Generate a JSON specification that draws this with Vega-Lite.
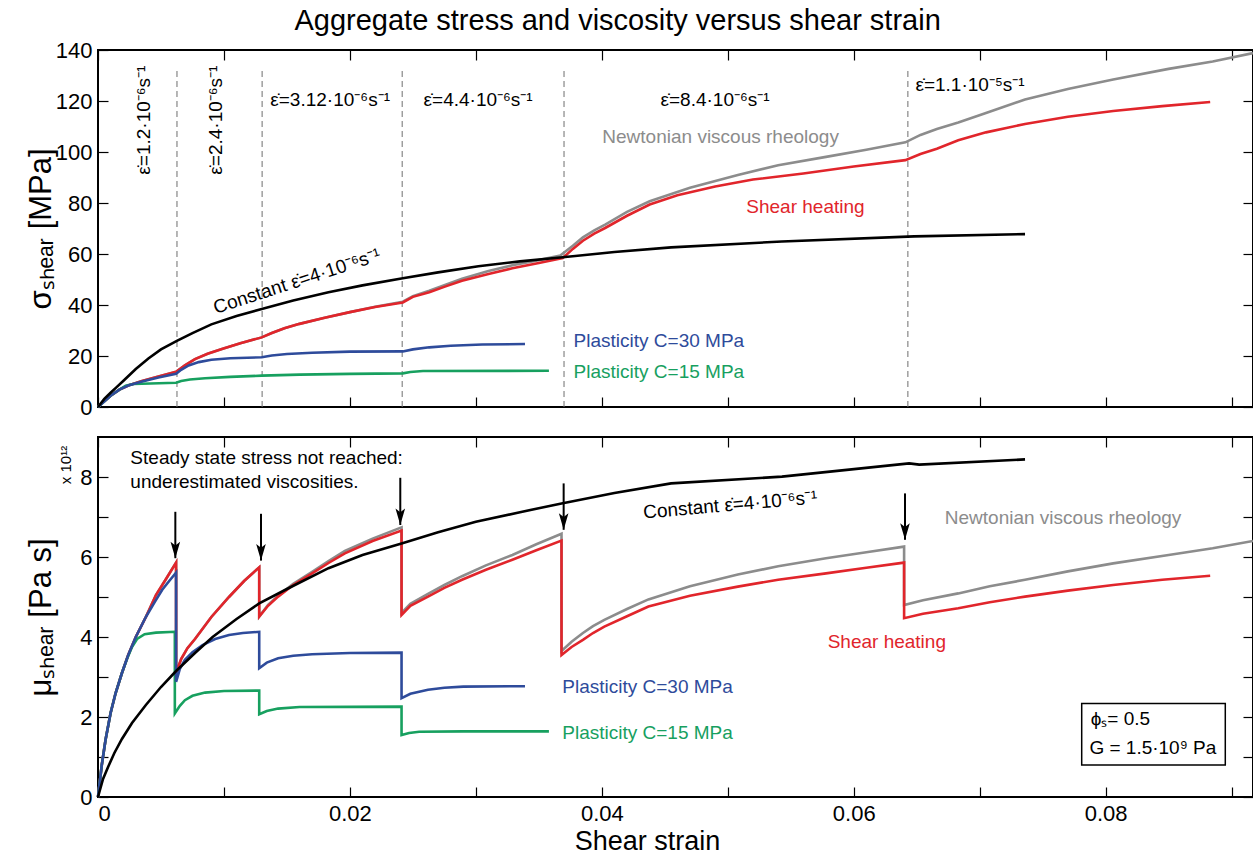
{
  "$schema": "https://vega.github.io/schema/vega-lite/v6.json",
  "background": "white",
  "padding": {"left": 24, "top": 7, "right": 0, "bottom": 0},
  "autosize": {"type": "pad"},
  "spacing": 16,
  "title": {"text": "Aggregate stress and viscosity versus shear strain", "fontSize": 29, "fontWeight": "normal", "font": "Liberation Sans", "color": "#000", "offset": 2, "anchor": "middle", "dx": -24},
  "config": {
    "font": "Liberation Sans",
    "view": {"stroke": "#000", "strokeWidth": 2},
    "axis": {"domain": false, "grid": false, "ticks": true, "tickColor": "#000", "tickWidth": 1.2, "tickSize": -10, "labelColor": "#000", "labelFontSize": 22, "labelFont": "Liberation Sans", "titleFont": "Liberation Sans", "titleFontSize": 31, "titleFontWeight": "normal", "titleColor": "#000"}
  },
  "datasets": {
    "stress": [
      {"s": "Newtonian", "x": 0, "y": 0}, {"s": "Newtonian", "x": 0.0005, "y": 2.3}, {"s": "Newtonian", "x": 0.001, "y": 4.4}, {"s": "Newtonian", "x": 0.0017, "y": 6.8}, {"s": "Newtonian", "x": 0.0024, "y": 8.4}, {"s": "Newtonian", "x": 0.0035, "y": 10.2}, {"s": "Newtonian", "x": 0.0048, "y": 12.0}, {"s": "Newtonian", "x": 0.0062, "y": 13.8}, {"s": "Newtonian", "x": 0.0069, "y": 16.3}, {"s": "Newtonian", "x": 0.0077, "y": 18.8}, {"s": "Newtonian", "x": 0.0087, "y": 20.9}, {"s": "Newtonian", "x": 0.0099, "y": 22.8}, {"s": "Newtonian", "x": 0.0113, "y": 25.0}, {"s": "Newtonian", "x": 0.013, "y": 27.3}, {"s": "Newtonian", "x": 0.0138, "y": 29.0}, {"s": "Newtonian", "x": 0.0148, "y": 30.9}, {"s": "Newtonian", "x": 0.016, "y": 32.6}, {"s": "Newtonian", "x": 0.018, "y": 35.0}, {"s": "Newtonian", "x": 0.02, "y": 37.2}, {"s": "Newtonian", "x": 0.022, "y": 39.3}, {"s": "Newtonian", "x": 0.0242, "y": 41.3}, {"s": "Newtonian", "x": 0.025, "y": 43.5}, {"s": "Newtonian", "x": 0.0263, "y": 45.6}, {"s": "Newtonian", "x": 0.0276, "y": 48.0}, {"s": "Newtonian", "x": 0.0289, "y": 50.3}, {"s": "Newtonian", "x": 0.031, "y": 53.3}, {"s": "Newtonian", "x": 0.0329, "y": 55.6}, {"s": "Newtonian", "x": 0.035, "y": 57.6}, {"s": "Newtonian", "x": 0.0367, "y": 59.4}, {"s": "Newtonian", "x": 0.0377, "y": 63.2}, {"s": "Newtonian", "x": 0.0385, "y": 66.5}, {"s": "Newtonian", "x": 0.0394, "y": 69.3}, {"s": "Newtonian", "x": 0.0403, "y": 71.6}, {"s": "Newtonian", "x": 0.042, "y": 76.5}, {"s": "Newtonian", "x": 0.0438, "y": 80.7}, {"s": "Newtonian", "x": 0.047, "y": 86.0}, {"s": "Newtonian", "x": 0.0508, "y": 91.0}, {"s": "Newtonian", "x": 0.054, "y": 94.8}, {"s": "Newtonian", "x": 0.0578, "y": 98.1}, {"s": "Newtonian", "x": 0.061, "y": 100.9}, {"s": "Newtonian", "x": 0.0641, "y": 103.8}, {"s": "Newtonian", "x": 0.0653, "y": 106.7}, {"s": "Newtonian", "x": 0.0666, "y": 109.0}, {"s": "Newtonian", "x": 0.0683, "y": 111.6}, {"s": "Newtonian", "x": 0.0705, "y": 115.3}, {"s": "Newtonian", "x": 0.0736, "y": 120.6}, {"s": "Newtonian", "x": 0.077, "y": 124.7}, {"s": "Newtonian", "x": 0.0806, "y": 128.4}, {"s": "Newtonian", "x": 0.085, "y": 132.6}, {"s": "Newtonian", "x": 0.0885, "y": 135.5}, {"s": "Newtonian", "x": 0.0917, "y": 138.8},
      {"s": "Heating", "x": 0, "y": 0}, {"s": "Heating", "x": 0.0005, "y": 2.3}, {"s": "Heating", "x": 0.001, "y": 4.4}, {"s": "Heating", "x": 0.0017, "y": 6.8}, {"s": "Heating", "x": 0.0024, "y": 8.4}, {"s": "Heating", "x": 0.0035, "y": 10.2}, {"s": "Heating", "x": 0.0048, "y": 12.0}, {"s": "Heating", "x": 0.0062, "y": 13.8}, {"s": "Heating", "x": 0.0069, "y": 16.3}, {"s": "Heating", "x": 0.0077, "y": 18.8}, {"s": "Heating", "x": 0.0087, "y": 20.9}, {"s": "Heating", "x": 0.0099, "y": 22.8}, {"s": "Heating", "x": 0.0113, "y": 25.0}, {"s": "Heating", "x": 0.013, "y": 27.3}, {"s": "Heating", "x": 0.0138, "y": 29.0}, {"s": "Heating", "x": 0.0148, "y": 30.9}, {"s": "Heating", "x": 0.016, "y": 32.6}, {"s": "Heating", "x": 0.018, "y": 35.0}, {"s": "Heating", "x": 0.02, "y": 37.2}, {"s": "Heating", "x": 0.022, "y": 39.2}, {"s": "Heating", "x": 0.0242, "y": 41.0}, {"s": "Heating", "x": 0.025, "y": 43.2}, {"s": "Heating", "x": 0.0263, "y": 45.0}, {"s": "Heating", "x": 0.0276, "y": 47.3}, {"s": "Heating", "x": 0.0289, "y": 49.5}, {"s": "Heating", "x": 0.031, "y": 52.2}, {"s": "Heating", "x": 0.0329, "y": 54.4}, {"s": "Heating", "x": 0.035, "y": 56.5}, {"s": "Heating", "x": 0.0369, "y": 58.4}, {"s": "Heating", "x": 0.0377, "y": 62.0}, {"s": "Heating", "x": 0.0385, "y": 65.2}, {"s": "Heating", "x": 0.0394, "y": 68.0}, {"s": "Heating", "x": 0.0403, "y": 70.3}, {"s": "Heating", "x": 0.042, "y": 75.0}, {"s": "Heating", "x": 0.0438, "y": 79.4}, {"s": "Heating", "x": 0.046, "y": 83.0}, {"s": "Heating", "x": 0.049, "y": 86.5}, {"s": "Heating", "x": 0.052, "y": 89.2}, {"s": "Heating", "x": 0.056, "y": 91.6}, {"s": "Heating", "x": 0.06, "y": 94.3}, {"s": "Heating", "x": 0.0641, "y": 96.8}, {"s": "Heating", "x": 0.0653, "y": 99.2}, {"s": "Heating", "x": 0.0666, "y": 101.3}, {"s": "Heating", "x": 0.0683, "y": 104.6}, {"s": "Heating", "x": 0.0705, "y": 107.7}, {"s": "Heating", "x": 0.0736, "y": 111.0}, {"s": "Heating", "x": 0.077, "y": 113.8}, {"s": "Heating", "x": 0.0806, "y": 116.1}, {"s": "Heating", "x": 0.0845, "y": 118.0}, {"s": "Heating", "x": 0.0883, "y": 119.6},
      {"s": "C15", "x": 0, "y": 0}, {"s": "C15", "x": 0.001, "y": 4.4}, {"s": "C15", "x": 0.0017, "y": 6.8}, {"s": "C15", "x": 0.0022, "y": 8.3}, {"s": "C15", "x": 0.0028, "y": 9.0}, {"s": "C15", "x": 0.0062, "y": 9.5}, {"s": "C15", "x": 0.0066, "y": 10.2}, {"s": "C15", "x": 0.0073, "y": 10.8}, {"s": "C15", "x": 0.0085, "y": 11.3}, {"s": "C15", "x": 0.0105, "y": 11.8}, {"s": "C15", "x": 0.013, "y": 12.3}, {"s": "C15", "x": 0.016, "y": 12.7}, {"s": "C15", "x": 0.02, "y": 13.0}, {"s": "C15", "x": 0.0242, "y": 13.2}, {"s": "C15", "x": 0.0248, "y": 13.7}, {"s": "C15", "x": 0.0258, "y": 14.1}, {"s": "C15", "x": 0.0358, "y": 14.2},
      {"s": "C30", "x": 0, "y": 0}, {"s": "C30", "x": 0.001, "y": 4.4}, {"s": "C30", "x": 0.0017, "y": 6.8}, {"s": "C30", "x": 0.0024, "y": 8.4}, {"s": "C30", "x": 0.0035, "y": 10.0}, {"s": "C30", "x": 0.0048, "y": 11.6}, {"s": "C30", "x": 0.0062, "y": 13.0}, {"s": "C30", "x": 0.0066, "y": 14.6}, {"s": "C30", "x": 0.0072, "y": 16.3}, {"s": "C30", "x": 0.008, "y": 17.6}, {"s": "C30", "x": 0.009, "y": 18.5}, {"s": "C30", "x": 0.0105, "y": 19.1}, {"s": "C30", "x": 0.013, "y": 19.5}, {"s": "C30", "x": 0.0138, "y": 20.2}, {"s": "C30", "x": 0.015, "y": 20.8}, {"s": "C30", "x": 0.017, "y": 21.3}, {"s": "C30", "x": 0.02, "y": 21.7}, {"s": "C30", "x": 0.0242, "y": 21.8}, {"s": "C30", "x": 0.025, "y": 22.6}, {"s": "C30", "x": 0.0263, "y": 23.4}, {"s": "C30", "x": 0.028, "y": 24.0}, {"s": "C30", "x": 0.0305, "y": 24.5}, {"s": "C30", "x": 0.0339, "y": 24.7},
      {"s": "Constant", "x": 0, "y": 0}, {"s": "Constant", "x": 0.0005, "y": 3.2}, {"s": "Constant", "x": 0.001, "y": 5.6}, {"s": "Constant", "x": 0.0015, "y": 7.9}, {"s": "Constant", "x": 0.002, "y": 10.2}, {"s": "Constant", "x": 0.003, "y": 14.9}, {"s": "Constant", "x": 0.004, "y": 19.0}, {"s": "Constant", "x": 0.005, "y": 22.6}, {"s": "Constant", "x": 0.0063, "y": 26.0}, {"s": "Constant", "x": 0.0075, "y": 29.0}, {"s": "Constant", "x": 0.009, "y": 32.4}, {"s": "Constant", "x": 0.011, "y": 35.7}, {"s": "Constant", "x": 0.013, "y": 38.4}, {"s": "Constant", "x": 0.0155, "y": 41.8}, {"s": "Constant", "x": 0.0183, "y": 45.0}, {"s": "Constant", "x": 0.021, "y": 47.7}, {"s": "Constant", "x": 0.0242, "y": 50.5}, {"s": "Constant", "x": 0.027, "y": 52.8}, {"s": "Constant", "x": 0.0302, "y": 55.2}, {"s": "Constant", "x": 0.0335, "y": 57.1}, {"s": "Constant", "x": 0.0369, "y": 58.7}, {"s": "Constant", "x": 0.041, "y": 60.8}, {"s": "Constant", "x": 0.0455, "y": 62.6}, {"s": "Constant", "x": 0.0543, "y": 64.9}, {"s": "Constant", "x": 0.0648, "y": 66.9}, {"s": "Constant", "x": 0.0736, "y": 67.8}
    ],
    "visc": [
      {"s": "Newtonian", "x": 0, "y": 0}, {"s": "Newtonian", "x": 0.0003, "y": 0.8}, {"s": "Newtonian", "x": 0.0006, "y": 1.43}, {"s": "Newtonian", "x": 0.001, "y": 2.1}, {"s": "Newtonian", "x": 0.0014, "y": 2.6}, {"s": "Newtonian", "x": 0.0019, "y": 3.1}, {"s": "Newtonian", "x": 0.0024, "y": 3.55}, {"s": "Newtonian", "x": 0.003, "y": 4.0}, {"s": "Newtonian", "x": 0.0038, "y": 4.5}, {"s": "Newtonian", "x": 0.0046, "y": 5.05}, {"s": "Newtonian", "x": 0.0054, "y": 5.45}, {"s": "Newtonian", "x": 0.0062, "y": 5.86}, {"s": "Newtonian", "x": 0.0062, "y": 3.1}, {"s": "Newtonian", "x": 0.0066, "y": 3.45}, {"s": "Newtonian", "x": 0.0071, "y": 3.72}, {"s": "Newtonian", "x": 0.0077, "y": 3.95}, {"s": "Newtonian", "x": 0.009, "y": 4.5}, {"s": "Newtonian", "x": 0.0104, "y": 5.0}, {"s": "Newtonian", "x": 0.0116, "y": 5.4}, {"s": "Newtonian", "x": 0.0128, "y": 5.74}, {"s": "Newtonian", "x": 0.0128, "y": 4.51}, {"s": "Newtonian", "x": 0.0135, "y": 4.8}, {"s": "Newtonian", "x": 0.0143, "y": 5.03}, {"s": "Newtonian", "x": 0.0155, "y": 5.33}, {"s": "Newtonian", "x": 0.017, "y": 5.63}, {"s": "Newtonian", "x": 0.0183, "y": 5.9}, {"s": "Newtonian", "x": 0.0196, "y": 6.15}, {"s": "Newtonian", "x": 0.0218, "y": 6.46}, {"s": "Newtonian", "x": 0.0241, "y": 6.74}, {"s": "Newtonian", "x": 0.0241, "y": 4.6}, {"s": "Newtonian", "x": 0.0248, "y": 4.83}, {"s": "Newtonian", "x": 0.0262, "y": 5.08}, {"s": "Newtonian", "x": 0.0275, "y": 5.3}, {"s": "Newtonian", "x": 0.0289, "y": 5.52}, {"s": "Newtonian", "x": 0.0308, "y": 5.79}, {"s": "Newtonian", "x": 0.0329, "y": 6.05}, {"s": "Newtonian", "x": 0.0348, "y": 6.32}, {"s": "Newtonian", "x": 0.0368, "y": 6.58}, {"s": "Newtonian", "x": 0.0368, "y": 3.65}, {"s": "Newtonian", "x": 0.0376, "y": 3.88}, {"s": "Newtonian", "x": 0.0385, "y": 4.1}, {"s": "Newtonian", "x": 0.0393, "y": 4.27}, {"s": "Newtonian", "x": 0.0402, "y": 4.43}, {"s": "Newtonian", "x": 0.042, "y": 4.7}, {"s": "Newtonian", "x": 0.0437, "y": 4.94}, {"s": "Newtonian", "x": 0.047, "y": 5.27}, {"s": "Newtonian", "x": 0.0508, "y": 5.56}, {"s": "Newtonian", "x": 0.054, "y": 5.77}, {"s": "Newtonian", "x": 0.0578, "y": 5.97}, {"s": "Newtonian", "x": 0.061, "y": 6.12}, {"s": "Newtonian", "x": 0.064, "y": 6.26}, {"s": "Newtonian", "x": 0.064, "y": 4.8}, {"s": "Newtonian", "x": 0.0655, "y": 4.92}, {"s": "Newtonian", "x": 0.0683, "y": 5.09}, {"s": "Newtonian", "x": 0.0708, "y": 5.27}, {"s": "Newtonian", "x": 0.0736, "y": 5.43}, {"s": "Newtonian", "x": 0.077, "y": 5.64}, {"s": "Newtonian", "x": 0.0806, "y": 5.84}, {"s": "Newtonian", "x": 0.085, "y": 6.05}, {"s": "Newtonian", "x": 0.0885, "y": 6.22}, {"s": "Newtonian", "x": 0.0917, "y": 6.4},
      {"s": "Heating", "x": 0, "y": 0}, {"s": "Heating", "x": 0.0003, "y": 0.8}, {"s": "Heating", "x": 0.0006, "y": 1.43}, {"s": "Heating", "x": 0.001, "y": 2.1}, {"s": "Heating", "x": 0.0014, "y": 2.6}, {"s": "Heating", "x": 0.0019, "y": 3.1}, {"s": "Heating", "x": 0.0024, "y": 3.55}, {"s": "Heating", "x": 0.003, "y": 4.0}, {"s": "Heating", "x": 0.0038, "y": 4.5}, {"s": "Heating", "x": 0.0046, "y": 5.05}, {"s": "Heating", "x": 0.0054, "y": 5.45}, {"s": "Heating", "x": 0.0062, "y": 5.86}, {"s": "Heating", "x": 0.0062, "y": 3.1}, {"s": "Heating", "x": 0.0066, "y": 3.45}, {"s": "Heating", "x": 0.0071, "y": 3.72}, {"s": "Heating", "x": 0.0077, "y": 3.95}, {"s": "Heating", "x": 0.009, "y": 4.5}, {"s": "Heating", "x": 0.0104, "y": 5.0}, {"s": "Heating", "x": 0.0116, "y": 5.4}, {"s": "Heating", "x": 0.0128, "y": 5.74}, {"s": "Heating", "x": 0.0128, "y": 4.51}, {"s": "Heating", "x": 0.0135, "y": 4.78}, {"s": "Heating", "x": 0.0143, "y": 5.01}, {"s": "Heating", "x": 0.0155, "y": 5.3}, {"s": "Heating", "x": 0.017, "y": 5.59}, {"s": "Heating", "x": 0.0183, "y": 5.85}, {"s": "Heating", "x": 0.0196, "y": 6.09}, {"s": "Heating", "x": 0.0218, "y": 6.4}, {"s": "Heating", "x": 0.0241, "y": 6.66}, {"s": "Heating", "x": 0.0241, "y": 4.55}, {"s": "Heating", "x": 0.0248, "y": 4.78}, {"s": "Heating", "x": 0.0262, "y": 5.01}, {"s": "Heating", "x": 0.0275, "y": 5.23}, {"s": "Heating", "x": 0.0289, "y": 5.43}, {"s": "Heating", "x": 0.0308, "y": 5.68}, {"s": "Heating", "x": 0.0329, "y": 5.93}, {"s": "Heating", "x": 0.0348, "y": 6.17}, {"s": "Heating", "x": 0.0368, "y": 6.41}, {"s": "Heating", "x": 0.0368, "y": 3.55}, {"s": "Heating", "x": 0.0376, "y": 3.75}, {"s": "Heating", "x": 0.0385, "y": 3.93}, {"s": "Heating", "x": 0.0393, "y": 4.1}, {"s": "Heating", "x": 0.0402, "y": 4.26}, {"s": "Heating", "x": 0.042, "y": 4.52}, {"s": "Heating", "x": 0.0437, "y": 4.76}, {"s": "Heating", "x": 0.047, "y": 5.03}, {"s": "Heating", "x": 0.0508, "y": 5.26}, {"s": "Heating", "x": 0.054, "y": 5.43}, {"s": "Heating", "x": 0.0578, "y": 5.59}, {"s": "Heating", "x": 0.061, "y": 5.73}, {"s": "Heating", "x": 0.064, "y": 5.86}, {"s": "Heating", "x": 0.064, "y": 4.47}, {"s": "Heating", "x": 0.0655, "y": 4.58}, {"s": "Heating", "x": 0.0683, "y": 4.72}, {"s": "Heating", "x": 0.0708, "y": 4.87}, {"s": "Heating", "x": 0.0736, "y": 5.01}, {"s": "Heating", "x": 0.077, "y": 5.16}, {"s": "Heating", "x": 0.0806, "y": 5.3}, {"s": "Heating", "x": 0.0845, "y": 5.43}, {"s": "Heating", "x": 0.0883, "y": 5.53},
      {"s": "C15", "x": 0, "y": 0}, {"s": "C15", "x": 0.0003, "y": 0.8}, {"s": "C15", "x": 0.0006, "y": 1.43}, {"s": "C15", "x": 0.001, "y": 2.1}, {"s": "C15", "x": 0.0014, "y": 2.6}, {"s": "C15", "x": 0.0019, "y": 3.1}, {"s": "C15", "x": 0.0023, "y": 3.45}, {"s": "C15", "x": 0.0027, "y": 3.75}, {"s": "C15", "x": 0.0031, "y": 3.95}, {"s": "C15", "x": 0.0037, "y": 4.07}, {"s": "C15", "x": 0.0046, "y": 4.11}, {"s": "C15", "x": 0.0061, "y": 4.13}, {"s": "C15", "x": 0.0061, "y": 2.09}, {"s": "C15", "x": 0.0065, "y": 2.28}, {"s": "C15", "x": 0.0069, "y": 2.42}, {"s": "C15", "x": 0.0075, "y": 2.53}, {"s": "C15", "x": 0.0085, "y": 2.61}, {"s": "C15", "x": 0.01, "y": 2.65}, {"s": "C15", "x": 0.0128, "y": 2.66}, {"s": "C15", "x": 0.0128, "y": 2.07}, {"s": "C15", "x": 0.0134, "y": 2.15}, {"s": "C15", "x": 0.0143, "y": 2.21}, {"s": "C15", "x": 0.016, "y": 2.25}, {"s": "C15", "x": 0.0241, "y": 2.26}, {"s": "C15", "x": 0.0241, "y": 1.55}, {"s": "C15", "x": 0.0247, "y": 1.6}, {"s": "C15", "x": 0.0255, "y": 1.63}, {"s": "C15", "x": 0.029, "y": 1.64}, {"s": "C15", "x": 0.0358, "y": 1.64},
      {"s": "C30", "x": 0, "y": 0}, {"s": "C30", "x": 0.0003, "y": 0.8}, {"s": "C30", "x": 0.0006, "y": 1.43}, {"s": "C30", "x": 0.001, "y": 2.1}, {"s": "C30", "x": 0.0014, "y": 2.6}, {"s": "C30", "x": 0.0019, "y": 3.1}, {"s": "C30", "x": 0.0024, "y": 3.55}, {"s": "C30", "x": 0.003, "y": 4.0}, {"s": "C30", "x": 0.0038, "y": 4.5}, {"s": "C30", "x": 0.0045, "y": 4.87}, {"s": "C30", "x": 0.0051, "y": 5.18}, {"s": "C30", "x": 0.0057, "y": 5.42}, {"s": "C30", "x": 0.0062, "y": 5.61}, {"s": "C30", "x": 0.0062, "y": 2.88}, {"s": "C30", "x": 0.0065, "y": 3.2}, {"s": "C30", "x": 0.0069, "y": 3.43}, {"s": "C30", "x": 0.0075, "y": 3.62}, {"s": "C30", "x": 0.0083, "y": 3.8}, {"s": "C30", "x": 0.0093, "y": 3.95}, {"s": "C30", "x": 0.0104, "y": 4.05}, {"s": "C30", "x": 0.0115, "y": 4.1}, {"s": "C30", "x": 0.0128, "y": 4.13}, {"s": "C30", "x": 0.0128, "y": 3.22}, {"s": "C30", "x": 0.0134, "y": 3.36}, {"s": "C30", "x": 0.0143, "y": 3.47}, {"s": "C30", "x": 0.0155, "y": 3.53}, {"s": "C30", "x": 0.017, "y": 3.57}, {"s": "C30", "x": 0.02, "y": 3.6}, {"s": "C30", "x": 0.0241, "y": 3.61}, {"s": "C30", "x": 0.0241, "y": 2.47}, {"s": "C30", "x": 0.0248, "y": 2.58}, {"s": "C30", "x": 0.0262, "y": 2.68}, {"s": "C30", "x": 0.0275, "y": 2.73}, {"s": "C30", "x": 0.029, "y": 2.76}, {"s": "C30", "x": 0.0339, "y": 2.77},
      {"s": "Constant", "x": 0, "y": 0}, {"s": "Constant", "x": 0.0004, "y": 0.45}, {"s": "Constant", "x": 0.0008, "y": 0.75}, {"s": "Constant", "x": 0.0013, "y": 1.1}, {"s": "Constant", "x": 0.0019, "y": 1.45}, {"s": "Constant", "x": 0.0027, "y": 1.85}, {"s": "Constant", "x": 0.0038, "y": 2.3}, {"s": "Constant", "x": 0.005, "y": 2.75}, {"s": "Constant", "x": 0.0062, "y": 3.15}, {"s": "Constant", "x": 0.0077, "y": 3.6}, {"s": "Constant", "x": 0.0091, "y": 4.0}, {"s": "Constant", "x": 0.011, "y": 4.45}, {"s": "Constant", "x": 0.0128, "y": 4.84}, {"s": "Constant", "x": 0.015, "y": 5.2}, {"s": "Constant", "x": 0.0183, "y": 5.72}, {"s": "Constant", "x": 0.021, "y": 6.05}, {"s": "Constant", "x": 0.0241, "y": 6.34}, {"s": "Constant", "x": 0.027, "y": 6.62}, {"s": "Constant", "x": 0.03, "y": 6.88}, {"s": "Constant", "x": 0.0335, "y": 7.12}, {"s": "Constant", "x": 0.0368, "y": 7.34}, {"s": "Constant", "x": 0.041, "y": 7.6}, {"s": "Constant", "x": 0.0455, "y": 7.84}, {"s": "Constant", "x": 0.0543, "y": 8.01}, {"s": "Constant", "x": 0.0644, "y": 8.34}, {"s": "Constant", "x": 0.0652, "y": 8.31}, {"s": "Constant", "x": 0.0736, "y": 8.44}
    ],
    "rateSteps": [{"x": 0.00627}, {"x": 0.01303}, {"x": 0.02415}, {"x": 0.037}, {"x": 0.0643}],
    "rateVertical": [
      {"x": 0.00362, "y": 112.5, "t": "ε̇=1.2·10⁻⁶s⁻¹"},
      {"x": 0.00939, "y": 112.5, "t": "ε̇=2.4·10⁻⁶s⁻¹"}
    ],
    "rateHorizontal": [
      {"x": 0.01368, "y": 120.5, "t": "ε̇=3.12·10⁻⁶s⁻¹"},
      {"x": 0.02585, "y": 120.5, "t": "ε̇=4.4·10⁻⁶s⁻¹"},
      {"x": 0.04466, "y": 120.3, "t": "ε̇=8.4·10⁻⁶s⁻¹"},
      {"x": 0.0649, "y": 126.3, "t": "ε̇=1.1·10⁻⁵s⁻¹"}
    ],
    "stressLabels": [
      {"s": "Newtonian", "x": 0.04004, "y": 105.8, "t": "Newtonian viscous rheology"},
      {"s": "Heating", "x": 0.05147, "y": 78.3, "t": "Shear heating"},
      {"s": "C30", "x": 0.03776, "y": 26.0, "t": "Plasticity C=30 MPa"},
      {"s": "C15", "x": 0.03776, "y": 13.6, "t": "Plasticity C=15 MPa"}
    ],
    "stressConstant": [{"x": 0.0158, "y": 49.3, "t": "Constant ε̇=4·10⁻⁶s⁻¹"}],
    "viscLabels": [
      {"s": "Newtonian", "x": 0.06723, "y": 6.97, "t": "Newtonian viscous rheology"},
      {"s": "Heating", "x": 0.05793, "y": 3.88, "t": "Shear heating"},
      {"s": "C30", "x": 0.03686, "y": 2.76, "t": "Plasticity C=30 MPa"},
      {"s": "C15", "x": 0.03686, "y": 1.61, "t": "Plasticity C=15 MPa"}
    ],
    "viscConstant": [{"x": 0.0502, "y": 7.3, "t": "Constant ε̇=4·10⁻⁶s⁻¹"}],
    "note": [
      {"x": 0.00257, "y": 8.47, "t": "Steady state stress not reached:"},
      {"x": 0.00257, "y": 7.88, "t": "underestimated viscosities."}
    ],
    "arrows": [
      {"x": 0.00614, "top": 7.13, "tip": 5.97},
      {"x": 0.01294, "top": 7.08, "tip": 5.91},
      {"x": 0.024, "top": 7.98, "tip": 6.8},
      {"x": 0.03697, "top": 7.84, "tip": 6.68},
      {"x": 0.06407, "top": 7.59, "tip": 6.43}
    ],
    "paramBox": [{"x": 0.0781, "x2": 0.0895, "y": 0.8, "y2": 2.34}],
    "paramText": [
      {"x": 0.07881, "y": 1.94, "t": "ϕₛ= 0.5"},
      {"x": 0.07871, "y": 1.22, "t": "G = 1.5·10⁹ Pa"}
    ],
    "scaleNote": [{"x": -0.00252, "y": 8.3, "t": "x 10¹²"}]
  },
  "vconcat": [
    {
      "width": 1155,
      "height": 357,
      "resolve": {"axis": {"x": "independent", "y": "independent"}},
      "layer": [
        {
          "data": {"name": "rateSteps"},
          "mark": {"type": "rule", "color": "#6e6e6e", "strokeWidth": 1, "strokeDash": [6, 4]},
          "encoding": {
            "x": {"field": "x", "type": "quantitative", "scale": {"domain": [0, 0.0917], "nice": false, "zero": false}, "axis": {"orient": "top", "values": [0, 0.01, 0.02, 0.03, 0.04, 0.05, 0.06, 0.07, 0.08, 0.09], "labels": false, "title": null}},
            "y": {"datum": 0, "type": "quantitative", "scale": {"domain": [0, 140], "nice": false}, "axis": {"orient": "right", "values": [0, 20, 40, 60, 80, 100, 120, 140], "labels": false, "title": null}},
            "y2": {"datum": 132.5}
          }
        },
        {
          "data": {"name": "stress"},
          "mark": {"type": "line", "strokeWidth": 2.6},
          "encoding": {
            "x": {"field": "x", "type": "quantitative", "scale": {"domain": [0, 0.0917], "nice": false, "zero": false}, "axis": {"orient": "bottom", "values": [0, 0.01, 0.02, 0.03, 0.04, 0.05, 0.06, 0.07, 0.08, 0.09], "labels": false, "title": null}},
            "y": {"field": "y", "type": "quantitative", "scale": {"domain": [0, 140], "nice": false}, "axis": {"orient": "left", "values": [0, 20, 40, 60, 80, 100, 120, 140], "labelPadding": 16, "title": "σₛₕₑₐᵣ [MPa]", "titleX": -57, "titleAngle": -90, "titleAlign": "center", "titleBaseline": "middle"}},
            "color": {"field": "s", "type": "nominal", "scale": {"domain": ["Newtonian", "Heating", "C30", "C15", "Constant"], "range": ["#8c8c8c", "#e1252b", "#2e4b9b", "#17a05f", "#000000"]}, "legend": null}
          }
        },
        {
          "data": {"name": "rateVertical"},
          "mark": {"type": "text", "angle": -90, "align": "center", "baseline": "middle", "fontSize": 19, "color": "#000"},
          "encoding": {
            "x": {"field": "x", "type": "quantitative", "scale": {"domain": [0, 0.0917], "nice": false, "zero": false}, "axis": null},
            "y": {"field": "y", "type": "quantitative", "scale": {"domain": [0, 140], "nice": false}, "axis": null},
            "text": {"field": "t"}
          }
        },
        {
          "data": {"name": "rateHorizontal"},
          "mark": {"type": "text", "align": "left", "baseline": "middle", "fontSize": 19, "color": "#000"},
          "encoding": {
            "x": {"field": "x", "type": "quantitative", "scale": {"domain": [0, 0.0917], "nice": false, "zero": false}, "axis": null},
            "y": {"field": "y", "type": "quantitative", "scale": {"domain": [0, 140], "nice": false}, "axis": null},
            "text": {"field": "t"}
          }
        },
        {
          "data": {"name": "stressLabels"},
          "mark": {"type": "text", "align": "left", "baseline": "middle", "fontSize": 19},
          "encoding": {
            "x": {"field": "x", "type": "quantitative", "scale": {"domain": [0, 0.0917], "nice": false, "zero": false}, "axis": null},
            "y": {"field": "y", "type": "quantitative", "scale": {"domain": [0, 140], "nice": false}, "axis": null},
            "text": {"field": "t"},
            "color": {"field": "s", "type": "nominal", "scale": {"domain": ["Newtonian", "Heating", "C30", "C15", "Constant"], "range": ["#8c8c8c", "#e1252b", "#2e4b9b", "#17a05f", "#000000"]}, "legend": null}
          }
        },
        {
          "data": {"name": "stressConstant"},
          "mark": {"type": "text", "align": "center", "baseline": "middle", "fontSize": 19, "angle": -18, "color": "#000"},
          "encoding": {
            "x": {"field": "x", "type": "quantitative", "scale": {"domain": [0, 0.0917], "nice": false, "zero": false}, "axis": null},
            "y": {"field": "y", "type": "quantitative", "scale": {"domain": [0, 140], "nice": false}, "axis": null},
            "text": {"field": "t"}
          }
        }
      ]
    },
    {
      "width": 1155,
      "height": 360,
      "resolve": {"axis": {"x": "independent", "y": "independent"}},
      "layer": [
        {
          "data": {"name": "arrows"},
          "mark": {"type": "rule", "color": "#000", "strokeWidth": 2},
          "encoding": {
            "x": {"field": "x", "type": "quantitative", "scale": {"domain": [0, 0.0917], "nice": false, "zero": false}, "axis": {"orient": "top", "values": [0, 0.01, 0.02, 0.03, 0.04, 0.05, 0.06, 0.07, 0.08, 0.09], "labels": false, "title": null}},
            "y": {"field": "top", "type": "quantitative", "scale": {"domain": [0, 9], "nice": false}, "axis": {"orient": "right", "values": [0, 1, 2, 3, 4, 5, 6, 7, 8], "labels": false, "title": null}},
            "y2": {"field": "tip"}
          }
        },
        {
          "data": {"name": "visc"},
          "mark": {"type": "line", "strokeWidth": 2.6},
          "encoding": {
            "x": {"field": "x", "type": "quantitative", "scale": {"domain": [0, 0.0917], "nice": false, "zero": false}, "axis": {"orient": "bottom", "values": [0, 0.01, 0.02, 0.03, 0.04, 0.05, 0.06, 0.07, 0.08, 0.09], "format": "~g", "labelExpr": "abs(round(datum.value * 100)) % 2 == 0 ? datum.label : ''", "labelPadding": 16, "titleFontSize": 27, "title": "Shear strain", "titleX": 549, "titleY": 52, "titleAlign": "center", "titleBaseline": "alphabetic"}},
            "y": {"field": "y", "type": "quantitative", "scale": {"domain": [0, 9], "nice": false}, "axis": {"orient": "left", "values": [0, 1, 2, 3, 4, 5, 6, 7, 8], "labelExpr": "datum.value % 2 == 0 ? datum.label : ''", "labelPadding": 16, "title": "μₛₕₑₐᵣ [Pa s]", "titleX": -57, "titleAngle": -90, "titleAlign": "center", "titleBaseline": "middle"}},
            "color": {"field": "s", "type": "nominal", "scale": {"domain": ["Newtonian", "Heating", "C30", "C15", "Constant"], "range": ["#8c8c8c", "#e1252b", "#2e4b9b", "#17a05f", "#000000"]}, "legend": null}
          }
        },
        {
          "data": {"name": "arrows"},
          "mark": {"type": "point", "shape": "M0,0L-0.32,-1.1L0,-0.85L0.32,-1.1Z", "size": 900, "filled": true, "color": "#000", "opacity": 1, "strokeWidth": 0},
          "encoding": {
            "x": {"field": "x", "type": "quantitative", "scale": {"domain": [0, 0.0917], "nice": false, "zero": false}, "axis": null},
            "y": {"field": "tip", "type": "quantitative", "scale": {"domain": [0, 9], "nice": false}, "axis": null}
          }
        },
        {
          "data": {"name": "viscLabels"},
          "mark": {"type": "text", "align": "left", "baseline": "middle", "fontSize": 19},
          "encoding": {
            "x": {"field": "x", "type": "quantitative", "scale": {"domain": [0, 0.0917], "nice": false, "zero": false}, "axis": null},
            "y": {"field": "y", "type": "quantitative", "scale": {"domain": [0, 9], "nice": false}, "axis": null},
            "text": {"field": "t"},
            "color": {"field": "s", "type": "nominal", "scale": {"domain": ["Newtonian", "Heating", "C30", "C15", "Constant"], "range": ["#8c8c8c", "#e1252b", "#2e4b9b", "#17a05f", "#000000"]}, "legend": null}
          }
        },
        {
          "data": {"name": "viscConstant"},
          "mark": {"type": "text", "align": "center", "baseline": "middle", "fontSize": 19, "angle": -5, "color": "#000"},
          "encoding": {
            "x": {"field": "x", "type": "quantitative", "scale": {"domain": [0, 0.0917], "nice": false, "zero": false}, "axis": null},
            "y": {"field": "y", "type": "quantitative", "scale": {"domain": [0, 9], "nice": false}, "axis": null},
            "text": {"field": "t"}
          }
        },
        {
          "data": {"name": "note"},
          "mark": {"type": "text", "align": "left", "baseline": "middle", "fontSize": 19, "color": "#000"},
          "encoding": {
            "x": {"field": "x", "type": "quantitative", "scale": {"domain": [0, 0.0917], "nice": false, "zero": false}, "axis": null},
            "y": {"field": "y", "type": "quantitative", "scale": {"domain": [0, 9], "nice": false}, "axis": null},
            "text": {"field": "t"}
          }
        },
        {
          "data": {"name": "paramBox"},
          "mark": {"type": "rect", "fill": "#fff", "stroke": "#000", "strokeWidth": 1.5},
          "encoding": {
            "x": {"field": "x", "type": "quantitative", "scale": {"domain": [0, 0.0917], "nice": false, "zero": false}, "axis": null},
            "x2": {"field": "x2"},
            "y": {"field": "y", "type": "quantitative", "scale": {"domain": [0, 9], "nice": false}, "axis": null},
            "y2": {"field": "y2"}
          }
        },
        {
          "data": {"name": "paramText"},
          "mark": {"type": "text", "align": "left", "baseline": "middle", "fontSize": 19, "color": "#000"},
          "encoding": {
            "x": {"field": "x", "type": "quantitative", "scale": {"domain": [0, 0.0917], "nice": false, "zero": false}, "axis": null},
            "y": {"field": "y", "type": "quantitative", "scale": {"domain": [0, 9], "nice": false}, "axis": null},
            "text": {"field": "t"}
          }
        },
        {
          "data": {"name": "scaleNote"},
          "mark": {"type": "text", "align": "center", "baseline": "middle", "fontSize": 15, "angle": -90, "color": "#000"},
          "encoding": {
            "x": {"field": "x", "type": "quantitative", "scale": {"domain": [0, 0.0917], "nice": false, "zero": false}, "axis": null},
            "y": {"field": "y", "type": "quantitative", "scale": {"domain": [0, 9], "nice": false}, "axis": null},
            "text": {"field": "t"}
          }
        }
      ]
    }
  ]
}
